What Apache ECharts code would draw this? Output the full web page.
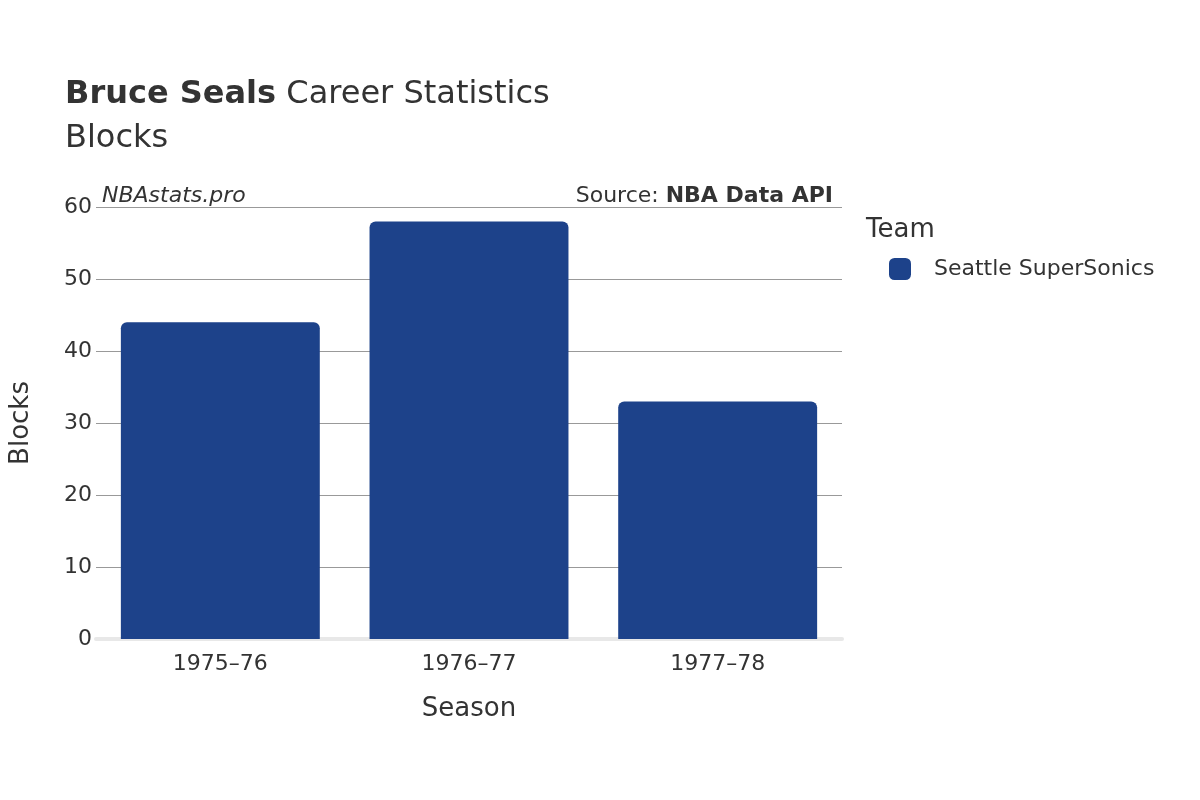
<!DOCTYPE html>
<html>
<head>
<meta charset="utf-8">
<script src="https://cdn.jsdelivr.net/npm/echarts@6/dist/echarts.min.js"></script>
<style>html,body{margin:0;padding:0;background:#fff}#main{width:1200px;height:800px}</style>
</head>
<body>
<div id="main"></div>
<script>
const seasons = ['1975–76', '1976–77', '1977–78']
const blocks = [44, 58, 33]
const teamName = 'Seattle SuperSonics'

const chart = echarts.init(document.getElementById('main'))
const font = 'DejaVu Sans'
let option = {
    backgroundColor: '#fff',
    textStyle: { fontFamily: font },
    title: [
        {
            text: '{b|Bruce Seals} Career Statistics\nBlocks',
            left: 60, top: 68,
            textStyle: {
                fontSize: 32, fontWeight: 'normal', color: '#333', lineHeight: 44, fontFamily: font,
                rich: { b: { fontSize: 32, fontWeight: 'bold', color: '#333', fontFamily: font } }
            }
        },
        {
            text: 'NBAstats.pro', left: 97, top: 180,
            textStyle: { fontSize: 22, fontStyle: 'italic', fontWeight: 'normal', color: '#333', fontFamily: font }
        },
        {
            text: 'Source: {b|NBA Data API}', right: 362, top: 180,
            textStyle: {
                fontSize: 22, fontWeight: 'normal', color: '#333', fontFamily: font,
                rich: { b: { fontSize: 22, fontWeight: 'bold', color: '#333', fontFamily: font } }
            }
        },
        {
            text: 'Team', left: 861, top: 212,
            textStyle: { fontSize: 26, fontWeight: 'normal', color: '#333', fontFamily: font }
        }
    ],
    legend: {
        left: 884, top: 253,
        icon: 'roundRect', itemWidth: 22, itemHeight: 22, itemGap: 12,
        textStyle: { fontSize: 22, color: '#333', fontFamily: font, padding: [0, 0, 0, 18] },
        data: [teamName]
    },
    grid: { left: 93, right: 358, top: 207, bottom: 161 },
    xAxis: {
        type: 'category',
        data: seasons,
        name: 'Season', nameLocation: 'middle', nameGap: 57,
        nameTextStyle: { fontSize: 26, color: '#333', fontFamily: font },
        axisLine: { show: true, lineStyle: { color: '#e8e8e8', width: 4 } },
        axisTick: { show: false },
        axisLabel: { fontSize: 22, color: '#333', margin: 14, fontFamily: font }
    },
    yAxis: {
        type: 'value', min: 0, max: 60, interval: 10,
        name: 'Blocks', nameLocation: 'middle', nameGap: 62,
        nameTextStyle: { fontSize: 26, color: '#333', fontFamily: font },
        axisLine: { show: false },
        axisTick: { show: false },
        axisLabel: { fontSize: 22, color: '#333', margin: 4, fontFamily: font },
        splitLine: { lineStyle: { color: '#999', width: 1 } }
    },
    series: [{
        name: teamName,
        type: 'bar',
        data: blocks,
        barCategoryGap: '20%',
        itemStyle: { color: '#1d428a', borderRadius: [6, 6, 0, 0] }
    }]
}
chart.setOption(option, true)
</script>
</body>
</html>
